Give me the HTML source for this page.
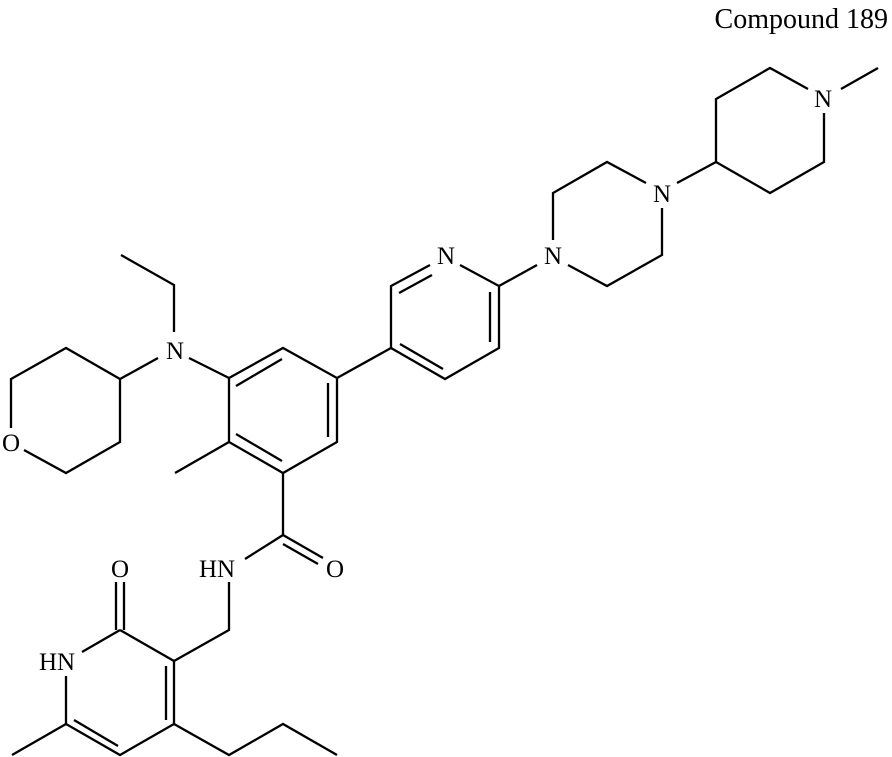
<!DOCTYPE html>
<html><head><style>
html,body{margin:0;padding:0;background:#fff;}
svg{display:block;}
text{font-family:"Liberation Serif",serif;font-size:25px;fill:#000;}
</style></head><body>
<svg width="892" height="757" viewBox="0 0 892 757" xmlns="http://www.w3.org/2000/svg">
<g stroke="#000" stroke-width="2.3" fill="none" stroke-linecap="butt">
<polyline points="121,255 174,285 174,332"/>
<line x1="189" y1="358" x2="229" y2="378"/>
<line x1="158" y1="358" x2="120" y2="379"/>
<polyline points="120,379 120,442 66,473 24,450"/>
<polyline points="11,428 11,379 66,348 120,379"/>
<polygon points="229,378 283,348 337,378 337,442 283,473 229,442"/>
<line x1="236" y1="386" x2="282" y2="359"/>
<line x1="328" y1="383" x2="328" y2="437"/>
<line x1="236" y1="434" x2="282" y2="461"/>
<line x1="229" y1="442" x2="175" y2="473"/>
<line x1="337" y1="378" x2="391" y2="348"/>
<line x1="283" y1="473" x2="283" y2="535"/>
<line x1="283" y1="535" x2="245" y2="559"/>
<line x1="283" y1="535" x2="323" y2="558"/>
<line x1="283" y1="544" x2="318" y2="564"/>
<polyline points="229,582 229,630 174,661"/>
<line x1="174" y1="661" x2="120" y2="630"/>
<line x1="116" y1="582" x2="116" y2="630"/>
<line x1="124" y1="582" x2="124" y2="630"/>
<line x1="120" y1="630" x2="82" y2="652"/>
<polyline points="66,676 66,724 120,755 174,724 174,661"/>
<line x1="74" y1="720" x2="118" y2="746"/>
<line x1="166" y1="666" x2="166" y2="720"/>
<line x1="66" y1="724" x2="12" y2="755"/>
<polyline points="174,724 229,755 283,724 337,755"/>
<polyline points="391,348 391,286 430,265"/>
<line x1="399" y1="293" x2="432" y2="275"/>
<polyline points="460,265 499,286 499,348 445,379 391,348"/>
<line x1="490" y1="292" x2="490" y2="342"/>
<line x1="443" y1="369" x2="400" y2="344"/>
<line x1="499" y1="286" x2="537" y2="265"/>
<polyline points="553,240 553,193 607,162 646,183"/>
<polyline points="662,208 662,255 607,286 568,265"/>
<line x1="677" y1="183" x2="716" y2="162"/>
<polyline points="716,162 716,99 770,68 808,89"/>
<polyline points="824,113 824,162 770,193 716,162"/>
<line x1="841" y1="89" x2="878" y2="68"/>
</g>
<g text-anchor="middle">
<text x="175" y="359">N</text>
<text x="11" y="451">O</text>
<text x="335" y="577">O</text>
<text x="217" y="577">HN</text>
<text x="120" y="577">O</text>
<text x="57" y="670">HN</text>
<text x="446" y="264">N</text>
<text x="553" y="264">N</text>
<text x="662" y="202">N</text>
<text x="823" y="107">N</text>
</g>
<text x="888" y="28" text-anchor="end" style="font-size:28px">Compound 189</text>
</svg>
</body></html>
